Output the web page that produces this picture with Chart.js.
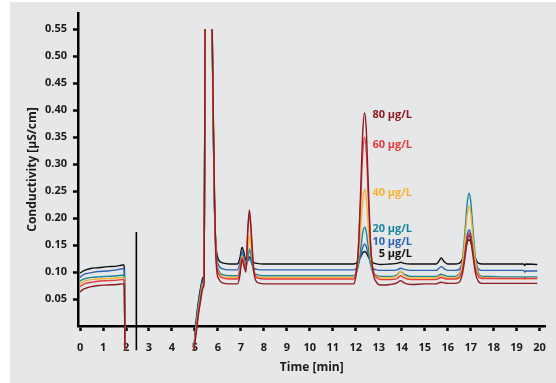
<!DOCTYPE html>
<html lang="en">
<head>
<meta charset="UTF-8">
<title>Conductivity chromatogram</title>
<script src="https://cdn.jsdelivr.net/npm/chart.js"></script>
<style>
  html, body { margin: 0; padding: 0; background: #fff; }
  #wrap { width: 556px; height: 383px; }
</style>
</head>
<body>
<div id="wrap"><canvas id="chrom" width="556" height="383"></canvas></div>
<script>
// retention time axis (min); null values below leave gaps in the traces
const times = [
  0, 0.1, 0.25, 0.5, 0.8, 1.2, 1.6, 1.85, 1.9, 1.93, 1.95,
  3.5,
  4.95, 5.05, 5.15, 5.25, 5.35, 5.4, 5.44,
  5.6,
  5.75, 5.8, 5.85, 5.9, 5.95, 6.05, 6.2, 6.5,
  6.85, 6.95, 7.05, 7.12, 7.22, 7.3, 7.37, 7.45, 7.55, 7.7, 8.0,
  9.0, 10.0, 11.0, 11.9,
  12.0, 12.1, 12.2, 12.3, 12.38, 12.45, 12.55, 12.65, 12.75, 12.9, 13.1,
  13.5, 13.8, 13.95, 14.1, 14.4,
  15.0, 15.5, 15.6, 15.72, 15.85, 16.0,
  16.3, 16.5, 16.65, 16.75, 16.85, 16.93, 17.0, 17.1, 17.2, 17.35, 17.5,
  17.8, 18.5, 19.3, 19.35, 19.4, 19.9
];

const conc5 = [
  0.098, 0.101, 0.104, 0.107, 0.108, 0.110, 0.111, 0.113, 0.113, 0.105, -0.045,
  null,
  -0.045, 0.010, 0.045, 0.072, 0.090, 0.100, 0.55,
  null,
  0.55, 0.36, 0.22, 0.16, 0.135, 0.121, 0.117, 0.115,
  0.115, 0.125, 0.146, 0.138, 0.122, 0.126, 0.128, 0.124, 0.118, 0.116, 0.115,
  0.115, 0.115, 0.115, 0.115,
  0.116, 0.119, 0.127, 0.135, 0.138, 0.136, 0.128, 0.120, 0.117, 0.115, 0.114,
  0.115, 0.116, 0.118, 0.116, 0.115,
  0.115, 0.115, 0.119, 0.126, 0.119, 0.115,
  0.115, 0.116, 0.125, 0.139, 0.155, 0.160, 0.156, 0.141, 0.126, 0.116, 0.115,
  0.115, 0.115, 0.115, 0.112, 0.115, 0.114
];

const conc10 = [
  0.090, 0.094, 0.097, 0.099, 0.101, 0.102, 0.104, 0.106, 0.106, 0.098, -0.045,
  null,
  -0.045, 0.005, 0.040, 0.067, 0.086, 0.096, 0.55,
  null,
  0.55, 0.36, 0.22, 0.155, 0.126, 0.111, 0.106, 0.104,
  0.104, 0.115, 0.138, 0.130, 0.113, 0.120, 0.125, 0.118, 0.108, 0.105, 0.104,
  0.104, 0.104, 0.104, 0.104,
  0.106, 0.113, 0.128, 0.146, 0.152, 0.148, 0.131, 0.115, 0.107, 0.104, 0.103,
  0.103, 0.104, 0.107, 0.105, 0.103,
  0.103, 0.103, 0.106, 0.110, 0.106, 0.103,
  0.103, 0.105, 0.120, 0.143, 0.169, 0.178, 0.171, 0.146, 0.121, 0.105, 0.103,
  0.103, 0.103, 0.103, 0.100, 0.102, 0.102
];

const conc20 = [
  0.083, 0.086, 0.088, 0.090, 0.091, 0.092, 0.093, 0.094, 0.094, 0.088, -0.045,
  null,
  -0.045, 0.000, 0.035, 0.062, 0.082, 0.092, 0.55,
  null,
  0.55, 0.37, 0.23, 0.15, 0.118, 0.101, 0.095, 0.093,
  0.093, 0.105, 0.132, 0.123, 0.108, 0.125, 0.143, 0.128, 0.102, 0.095, 0.093,
  0.093, 0.093, 0.093, 0.093,
  0.097, 0.109, 0.138, 0.172, 0.183, 0.176, 0.143, 0.113, 0.099, 0.094, 0.092,
  0.092, 0.095, 0.101, 0.096, 0.092,
  0.092, 0.092, 0.094, 0.096, 0.094, 0.092,
  0.092, 0.096, 0.126, 0.174, 0.228, 0.246, 0.232, 0.180, 0.129, 0.097, 0.092,
  0.092, 0.091, 0.091, 0.090, 0.091, 0.091
];

const conc40 = [
  0.078, 0.081, 0.084, 0.086, 0.087, 0.088, 0.089, 0.090, 0.090, 0.084, -0.045,
  null,
  -0.045, -0.005, 0.030, 0.057, 0.078, 0.088, 0.55,
  null,
  0.55, 0.38, 0.24, 0.15, 0.115, 0.098, 0.092, 0.090,
  0.090, 0.102, 0.130, 0.121, 0.108, 0.140, 0.168, 0.145, 0.105, 0.092, 0.090,
  0.090, 0.090, 0.090, 0.090,
  0.097, 0.119, 0.172, 0.233, 0.253, 0.240, 0.181, 0.126, 0.101, 0.092, 0.089,
  0.089, 0.093, 0.101, 0.094, 0.089,
  0.089, 0.089, 0.091, 0.093, 0.091, 0.089,
  0.089, 0.094, 0.119, 0.160, 0.206, 0.222, 0.210, 0.165, 0.122, 0.094, 0.090,
  0.089, 0.088, 0.088, 0.087, 0.088, 0.088
];

const conc60 = [
  0.073, 0.076, 0.079, 0.081, 0.083, 0.084, 0.085, 0.086, 0.086, 0.080, -0.045,
  null,
  -0.045, -0.010, 0.025, 0.052, 0.074, 0.085, 0.55,
  null,
  0.55, 0.38, 0.24, 0.15, 0.112, 0.095, 0.089, 0.087,
  0.087, 0.099, 0.127, 0.118, 0.106, 0.175, 0.208, 0.170, 0.110, 0.089, 0.087,
  0.087, 0.087, 0.087, 0.087,
  0.098, 0.134, 0.219, 0.318, 0.350, 0.329, 0.234, 0.145, 0.105, 0.090, 0.086,
  0.086, 0.088, 0.093, 0.089, 0.086,
  0.086, 0.086, 0.088, 0.090, 0.088, 0.087,
  0.087, 0.090, 0.106, 0.133, 0.162, 0.172, 0.164, 0.136, 0.108, 0.091, 0.088,
  0.088, 0.088, 0.088, 0.087, 0.088, 0.088
];

const conc80 = [
  0.063, 0.067, 0.070, 0.073, 0.075, 0.076, 0.077, 0.078, 0.078, 0.072, -0.045,
  null,
  -0.045, -0.015, 0.020, 0.048, 0.070, 0.082, 0.55,
  null,
  0.55, 0.39, 0.25, 0.14, 0.102, 0.086, 0.080, 0.078,
  0.078, 0.092, 0.123, 0.113, 0.100, 0.180, 0.215, 0.175, 0.105, 0.081, 0.078,
  0.078, 0.078, 0.078, 0.078,
  0.091, 0.135, 0.237, 0.357, 0.395, 0.370, 0.255, 0.148, 0.100, 0.081, 0.076,
  0.077, 0.080, 0.084, 0.080, 0.077,
  0.078, 0.078, 0.080, 0.081, 0.080, 0.079,
  0.079, 0.081, 0.099, 0.126, 0.157, 0.168, 0.160, 0.130, 0.100, 0.082, 0.079,
  0.079, 0.079, 0.079, 0.079, 0.079, 0.079
];

// injection marker
const injectionTime = [2.45, 2.45];
const injectionLevel = [0.174, -0.045];

const seriesNames = ['80 µg/L', '60 µg/L', '40 µg/L', '20 µg/L', '10 µg/L', '5 µg/L'];
const xTickValues = [0, 1, 2, 3, 4, 5, 6, 7, 8, 9, 10, 11, 12, 13, 14, 15, 16, 17, 18, 19, 20];
const yTickValues = [0.05, 0.10, 0.15, 0.20, 0.25, 0.30, 0.35, 0.40, 0.45, 0.50, 0.55];

const seriesValues = [conc80, conc60, conc40, conc20, conc10, conc5];
const colors = ['#8e1b20', '#e63a3d', '#f7b22e', '#16879b', '#2b64b3', '#111111'];

function toPoints(xs, ys) {
  return xs.map((x, i) => ({ x: x, y: ys[i] }));
}

Chart.defaults.font.family = "'Open Sans', 'DejaVu Sans', sans-serif";
Chart.defaults.color = '#1a1a1a';

const datasets = seriesValues.map((vals, i) => ({
  label: seriesNames[i],
  data: toPoints(times, vals),
  borderColor: colors[i],
  borderWidth: 1.4,
  pointRadius: 0,
  cubicInterpolationMode: 'monotone',
  spanGaps: false,
  clip: false
}));
datasets.push({
  label: 'injection',
  data: toPoints(injectionTime, injectionLevel),
  borderColor: '#000',
  borderWidth: 1.6,
  pointRadius: 0,
  clip: false
});

// grey panel behind everything
const panelBg = {
  id: 'panelBg',
  beforeDraw(chart) {
    const ctx = chart.ctx;
    ctx.save();
    ctx.fillStyle = '#e6e7e9';
    ctx.fillRect(10, 2, chart.width - 10, chart.height - 2);
    ctx.restore();
  }
};

// concentration labels next to the 12.4 min peak
const peakLabels = {
  id: 'peakLabels',
  afterDatasetsDraw(chart) {
    const ctx = chart.ctx;
    const xs = chart.scales.x, ys = chart.scales.y;
    const anchorX = 14.45;
    const anchorY = [0.391, 0.335, 0.246, 0.180, 0.156, 0.133];
    ctx.save();
    ctx.font = "bold 11px 'Open Sans', sans-serif";
    ctx.textAlign = 'right';
    ctx.textBaseline = 'middle';
    seriesNames.forEach((name, i) => {
      ctx.fillStyle = colors[i];
      ctx.fillText(name, xs.getPixelForValue(anchorX), ys.getPixelForValue(anchorY[i]));
    });
    ctx.restore();
  }
};

new Chart(document.getElementById('chrom'), {
  type: 'line',
  data: { datasets: datasets },
  options: {
    responsive: false,
    devicePixelRatio: 1,
    animation: false,
    layout: { padding: { top: 13, right: 9, left: 0, bottom: 0 } },
    plugins: { legend: { display: false }, tooltip: { enabled: false } },
    scales: {
      x: {
        type: 'linear',
        min: -0.09,
        max: 20.26,
        afterBuildTicks: s => { s.ticks = xTickValues.map(v => ({ value: v })); },
        afterFit: s => { s.height = 57; },
        grid: { drawOnChartArea: false, drawTicks: true, tickLength: 5, tickWidth: 2.5, tickColor: '#000' },
        border: { display: true, color: '#000', width: 2.5 },
        ticks: { font: { size: 11, weight: 'bold' }, padding: 10, maxRotation: 0, autoSkip: false },
        title: { display: true, text: 'Time [min]', font: { size: 12, weight: 'bold' }, padding: { bottom: 8 } }
      },
      y: {
        type: 'linear',
        min: 0,
        max: 0.58,
        afterBuildTicks: s => { s.ticks = yTickValues.map(v => ({ value: v })); },
        afterFit: s => { s.width = 78; },
        grid: { drawOnChartArea: false, drawTicks: true, tickLength: 5, tickWidth: 2.5, tickColor: '#000' },
        border: { display: true, color: '#000', width: 2.5 },
        ticks: { font: { size: 11, weight: 'bold' }, padding: 6, callback: v => v.toFixed(2), autoSkip: false },
        title: { display: true, text: 'Conductivity [µS/cm]', font: { size: 12, weight: 'bold' }, padding: { top: 25 } }
      }
    }
  },
  plugins: [panelBg, peakLabels]
});
</script>
</body>
</html>
